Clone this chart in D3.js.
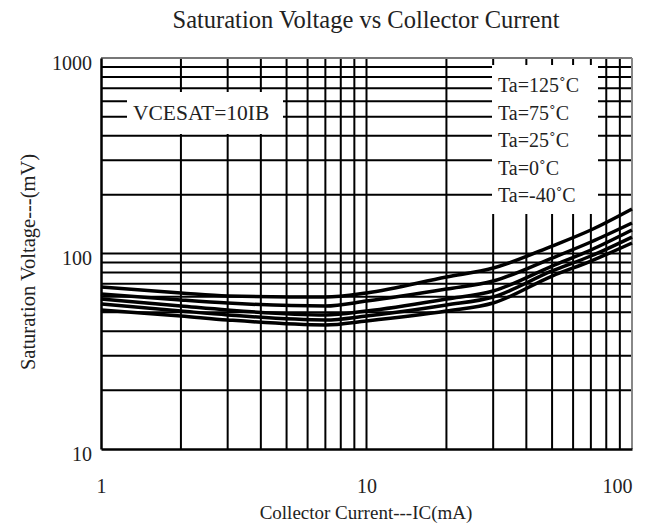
<!DOCTYPE html>
<html>
<head>
<meta charset="utf-8">
<script src="https://cdn.jsdelivr.net/npm/d3@7"></script>
<style>
  html, body { margin: 0; padding: 0; background: #fff; }
  svg { display: block; }
  text { font-family: "Liberation Serif", "DejaVu Serif", serif; fill: #222; }
</style>
</head>
<body>
<svg id="chart" width="661" height="528"></svg>
<script>
// Collector current (mA) sample points shared by every curve
const currents = [1, 2, 3, 7, 10, 20, 30, 50, 70, 100];

// Saturation voltage (mV) per ambient temperature
const ta125 = [67.4, 62.8, 60.6, 59.9, 62.8, 75.8, 84.3, 109.2, 131.9, 168.9];
const ta75  = [62.1, 57.8, 55.8, 53.9, 57.1, 65.8, 72.3, 94.8, 114.5, 143.2];
const ta25  = [58.5, 53.9, 51.4, 48.5, 50.8, 58.5, 64.3, 86.3, 104.2, 131.9];
const ta0   = [55.2, 50.8, 48.5, 45.7, 47.9, 54.5, 59.9, 81.4, 97.1, 121.4];
const taM40 = [51.4, 47.9, 45.7, 43.1, 45.2, 50.8, 55.8, 76.7, 91.5, 113.2];

const seriesValues = [ta125, ta75, ta25, ta0, taM40];
const legendLabels = ["Ta=125˚C", "Ta=75˚C", "Ta=25˚C", "Ta=0˚C", "Ta=-40˚C"];

const xTickLabels = [1, 10, 100];
const yTickLabels = [10, 100, 1000];
const xGrid = [2, 3, 4, 5, 6, 7, 8, 9, 10, 20, 30, 40, 50, 60, 70, 80, 90];
const yGrid = [20, 30, 40, 50, 60, 70, 80, 90, 100, 200, 300, 400, 500, 600, 700, 800, 900];

const svg = d3.select("#chart");
const plotLeft = 101, plotRight = 632, plotTop = 58, plotBottom = 449;

const x = d3.scaleLog().domain([1, 100]).range([plotLeft, plotRight]);
const y = d3.scaleLog().domain([10, 1000]).range([plotBottom, plotTop]);

// Grid lines
const grid = svg.append("g").attr("class", "grid");
grid.selectAll("line.v").data(xGrid).join("line")
  .attr("class", "v")
  .attr("x1", d => x(d)).attr("x2", d => x(d))
  .attr("y1", plotTop).attr("y2", plotBottom)
  .attr("stroke", "#000").attr("stroke-width", 2);
grid.selectAll("line.h").data(yGrid).join("line")
  .attr("class", "h")
  .attr("x1", plotLeft).attr("x2", plotRight)
  .attr("y1", d => y(d)).attr("y2", d => y(d))
  .attr("stroke", "#000").attr("stroke-width", 2);

// Frame: top and right edges lighter, left and bottom solid
svg.append("line").attr("x1", plotLeft).attr("x2", plotRight).attr("y1", plotTop).attr("y2", plotTop)
  .attr("stroke", "#777").attr("stroke-width", 2);
svg.append("line").attr("x1", plotRight).attr("x2", plotRight).attr("y1", plotTop).attr("y2", plotBottom)
  .attr("stroke", "#888").attr("stroke-width", 2);

// Axes (labels only; domain lines form the plot frame)
const xAxis = d3.axisBottom(x).tickValues(xTickLabels).tickFormat(d3.format("d")).tickSize(0).tickPadding(0);
const gx = svg.append("g").attr("transform", `translate(0,${plotBottom})`).call(xAxis);
gx.select(".domain").attr("stroke", "#000").attr("stroke-width", 2.5);
gx.selectAll("text")
  .attr("dy", 44)
  .attr("font-size", 20)
  .attr("font-family", "Liberation Serif")
  .attr("fill", "#222")
  .attr("text-anchor", (d, i, n) => i === n.length - 1 ? "end" : "middle");

const yAxis = d3.axisLeft(y).tickValues(yTickLabels).tickFormat(d3.format("d")).tickSize(0).tickPadding(0);
const gy = svg.append("g").attr("transform", `translate(${plotLeft},0)`).call(yAxis);
gy.select(".domain").attr("stroke", "#000").attr("stroke-width", 2.5);
gy.selectAll("text")
  .attr("x", -9)
  .attr("dy", "0.55em")
  .attr("font-size", 20)
  .attr("font-family", "Liberation Serif")
  .attr("fill", "#222");

// Annotation box
svg.append("rect").attr("x", 127).attr("y", 92).attr("width", 156).attr("height", 42).attr("fill", "#fff");
svg.append("text").attr("x", 133).attr("y", 120).attr("font-size", 21.5).text("VCESAT=10IB");

// Legend box
svg.append("rect").attr("x", 492).attr("y", 65).attr("width", 106).attr("height", 149).attr("fill", "#fff");
svg.selectAll("text.legend").data(legendLabels).join("text")
  .attr("class", "legend")
  .attr("x", 498)
  .attr("y", (d, i) => 92 + i * 27.6)
  .attr("font-size", 20)
  .text(d => d);

// Curves
const line = d3.line()
  .x((d, i) => x(currents[i]))
  .y(d => y(d))
  .curve(d3.curveMonotoneX);

svg.append("g").selectAll("path").data(seriesValues).join("path")
  .attr("d", d => line(d))
  .attr("fill", "none")
  .attr("stroke", "#000")
  .attr("stroke-width", 3.5)
  .attr("stroke-linejoin", "round");

// Titles
svg.append("text").attr("x", 366).attr("y", 28).attr("text-anchor", "middle")
  .attr("font-size", 24.5).text("Saturation Voltage vs Collector Current");
svg.append("text").attr("x", 366).attr("y", 519).attr("text-anchor", "middle")
  .attr("font-size", 19).text("Collector Current---IC(mA)");
svg.append("text").attr("transform", "translate(35,262) rotate(-90)").attr("text-anchor", "middle")
  .attr("font-size", 20.5).text("Saturation Voltage---(mV)");
</script>
</body>
</html>
